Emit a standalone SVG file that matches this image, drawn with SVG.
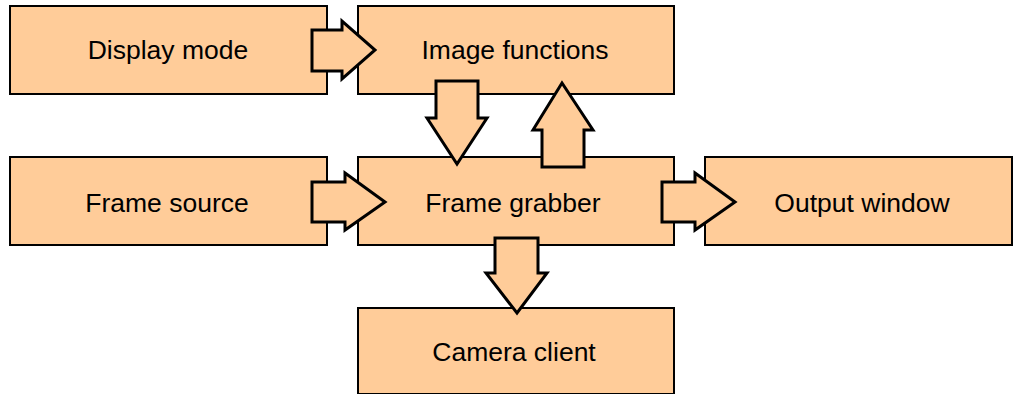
<svg xmlns="http://www.w3.org/2000/svg" width="1013" height="394" viewBox="0 0 1013 394">
<style>
.box{fill:#FFCC99;stroke:#000;stroke-width:2}
.arr{fill:#FFCC99;stroke:#000;stroke-width:3;stroke-linejoin:miter}
.lbl{font-family:"Liberation Sans",Arial,sans-serif;font-size:26.5px;fill:#000;text-anchor:middle}
</style>
<rect width="1013" height="394" fill="#fff"/>
<g id="display-mode"><rect class="box" x="10" y="6" width="317" height="88"/><text class="lbl" x="168" y="59">Display mode</text></g>
<g id="image-functions"><rect class="box" x="358" y="6" width="316" height="88"/><text class="lbl" x="515" y="59">Image functions</text></g>
<g id="frame-source"><rect class="box" x="10" y="157" width="317" height="88"/><text class="lbl" x="167" y="212">Frame source</text></g>
<g id="frame-grabber"><rect class="box" x="358" y="157" width="316" height="88"/><text class="lbl" x="513" y="212">Frame grabber</text></g>
<g id="output-window"><rect class="box" x="705" y="157" width="307" height="88"/><text class="lbl" x="862" y="212">Output window</text></g>
<g id="camera-client"><rect class="box" x="358" y="308" width="316" height="86"/><text class="lbl" x="514" y="361">Camera client</text></g>
<g id="connectors">
<polygon class="arr" points="312,30 342,30 342,21 375,50 342,79 342,71 312,71"/>
<polygon class="arr" points="312,182 345,182 345,173 385,202 345,230 345,222 312,222"/>
<polygon class="arr" points="662,182 695,182 695,173 735,202 695,230 695,222 662,222"/>
<polygon class="arr" points="436,81 478,81 478,118 487,118 457,164 427,118 436,118"/>
<polygon class="arr" points="542,167 584,167 584,130 593,130 562,83 533,130 542,130"/>
<polygon class="arr" points="495,238 538,238 538,273 547,273 517,313 486,273 495,273"/>
</g>
</svg>
